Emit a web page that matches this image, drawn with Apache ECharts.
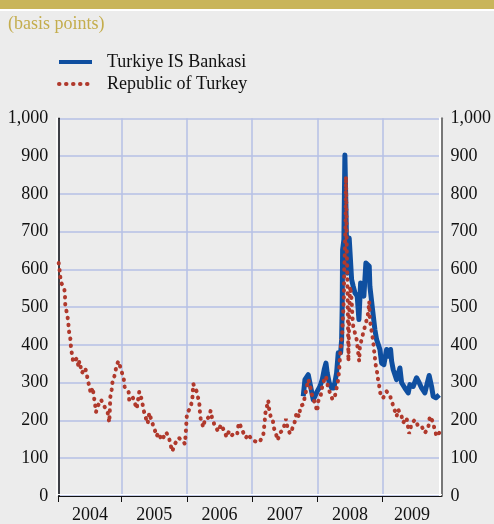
<!DOCTYPE html>
<html>
<head>
<meta charset="utf-8">
<script src="https://cdn.jsdelivr.net/npm/echarts@6/dist/echarts.min.js"></script>
<style>
  html, body { margin: 0; padding: 0; background: #ececec; }
  #chart { width: 494px; height: 524px; }
</style>
</head>
<body>
<div id="chart"></div>
<script>
// Republic of Turkey spread (basis points), decimal years
var turkeyYears = [2004.036, 2004.056, 2004.067, 2004.122, 2004.133, 2004.137, 2004.163, 2004.183, 2004.19, 2004.214,
  2004.224, 2004.240, 2004.260, 2004.312, 2004.342, 2004.352, 2004.393, 2004.443, 2004.480, 2004.505,
  2004.531, 2004.557, 2004.572, 2004.592, 2004.607, 2004.643, 2004.684, 2004.734, 2004.787, 2004.811,
  2004.822, 2004.826, 2004.848, 2004.863, 2004.888, 2004.929, 2004.955, 2004.990, 2005.032, 2005.047,
  2005.108, 2005.117, 2005.169, 2005.200, 2005.231, 2005.270, 2005.312, 2005.332, 2005.362, 2005.399,
  2005.424, 2005.460, 2005.500, 2005.537, 2005.561, 2005.618, 2005.679, 2005.721, 2005.745, 2005.776,
  2005.813, 2005.874, 2005.924, 2005.970, 2005.986, 2006.001, 2006.021, 2006.047, 2006.082, 2006.097,
  2006.149, 2006.159, 2006.189, 2006.197, 2006.211, 2006.251, 2006.277, 2006.327, 2006.364, 2006.388,
  2006.430, 2006.480, 2006.522, 2006.567, 2006.609, 2006.644, 2006.685, 2006.725, 2006.771, 2006.787,
  2006.802, 2006.848, 2006.874, 2006.904, 2006.940, 2006.992, 2007.042, 2007.108, 2007.169, 2007.188,
  2007.203, 2007.246, 2007.257, 2007.283, 2007.313, 2007.333, 2007.364, 2007.390, 2007.425, 2007.476,
  2007.517, 2007.537, 2007.578, 2007.613, 2007.655, 2007.681, 2007.716, 2007.742, 2007.782, 2007.834,
  2007.859, 2007.884, 2007.926, 2007.961, 2007.996, 2008.012, 2008.048, 2008.073, 2008.104, 2008.130,
  2008.165, 2008.202, 2008.232, 2008.267, 2008.293, 2008.318, 2008.333, 2008.344, 2008.370, 2008.379,
  2008.394, 2008.405, 2008.410, 2008.420, 2008.431, 2008.434, 2008.437, 2008.447, 2008.456, 2008.466,
  2008.474, 2008.489, 2008.502, 2008.523, 2008.535, 2008.548, 2008.600, 2008.624, 2008.639, 2008.650,
  2008.676, 2008.701, 2008.742, 2008.777, 2008.793, 2008.803, 2008.829, 2008.854, 2008.865, 2008.880,
  2008.895, 2008.915, 2008.931, 2008.957, 2008.967, 2009.007, 2009.059, 2009.110, 2009.136, 2009.171,
  2009.212, 2009.237, 2009.289, 2009.313, 2009.365, 2009.405, 2009.442, 2009.493, 2009.543, 2009.595,
  2009.645, 2009.696, 2009.722, 2009.763, 2009.783, 2009.825, 2009.865];
var turkeyBp = [617, 589, 567, 549, 527, 505, 483, 462, 440, 417,
  395, 374, 354, 364, 342, 357, 326, 339, 310, 289,
  271, 287, 266, 245, 222, 241, 255, 238, 220, 195,
  239, 261, 282, 306, 317, 350, 357, 335, 311, 289,
  275, 253, 262, 247, 231, 276, 253, 231, 211, 192,
  220, 198, 179, 158, 167, 148, 169, 158, 139, 118,
  137, 154, 148, 138, 176, 220, 224, 231, 253, 297,
  277, 268, 249, 227, 205, 182, 204, 207, 226, 204,
  185, 171, 189, 174, 156, 171, 160, 167, 164, 185,
  194, 174, 164, 154, 164, 149, 145, 142, 160, 190,
  220, 253, 233, 210, 204, 180, 165, 148, 167, 176,
  204, 185, 165, 178, 198, 222, 210, 239, 242, 286,
  308, 295, 260, 246, 224, 251, 264, 290, 308, 317,
  286, 268, 255, 264, 286, 308, 335, 366, 370, 432,
  485, 529, 600, 652, 723, 784, 846, 679, 590, 480,
  357, 502, 555, 520, 476, 449, 414, 379, 357, 396,
  414, 432, 458, 485, 515, 467, 436, 410, 388, 366,
  343, 326, 304, 282, 264, 260, 277, 266, 264, 233,
  211, 229, 211, 194, 207, 165, 192, 202, 185, 185,
  167, 180, 211, 198, 185, 158, 167];

// Turkiye IS Bankasi spread (basis points)
var bankYears = [2007.782, 2007.808, 2007.834, 2007.859, 2007.895, 2007.935, 2007.961, 2007.996, 2008.038, 2008.073,
  2008.104, 2008.130, 2008.149, 2008.180, 2008.217, 2008.252, 2008.293, 2008.318, 2008.355, 2008.370,
  2008.379, 2008.385, 2008.405, 2008.420, 2008.436, 2008.447, 2008.456, 2008.486, 2008.508, 2008.523,
  2008.548, 2008.574, 2008.609, 2008.635, 2008.661, 2008.685, 2008.711, 2008.742, 2008.768, 2008.793,
  2008.803, 2008.844, 2008.880, 2008.906, 2008.957, 2008.982, 2009.018, 2009.059, 2009.084, 2009.120,
  2009.136, 2009.160, 2009.212, 2009.263, 2009.289, 2009.339, 2009.390, 2009.416, 2009.466, 2009.518,
  2009.558, 2009.595, 2009.645, 2009.711, 2009.748, 2009.773, 2009.814, 2009.865];
var bankBp = [264, 308, 313, 321, 290, 255, 264, 277, 290, 308,
  335, 352, 326, 300, 286, 286, 326, 379, 379, 414,
  502, 652, 679, 903, 767, 652, 590, 683, 679, 573,
  555, 538, 529, 467, 564, 568, 529, 617, 621, 608,
  555, 493, 440, 414, 388, 352, 348, 388, 370, 388,
  357, 335, 308, 339, 300, 286, 273, 295, 290, 313,
  300, 286, 273, 319, 290, 264, 260, 268];

var yearTicks = [2004.03, 2005, 2006, 2007, 2008, 2009];
var yearLabelAt = [2004.515, 2005.5, 2006.5, 2007.5, 2008.5, 2009.45];

function pairs(xs, ys) {
  return xs.map(function (x, i) { return [x, ys[i]]; });
}

var serif = "'Liberation Serif', 'Times New Roman', serif";
var gridBlue = '#b6c0e6';

var chart = echarts.init(document.getElementById('chart'));
var option = {
  backgroundColor: '#ececec',
  animation: false,
  graphic: [
    { type: 'rect', left: 0, top: 0, shape: { width: 494, height: 9 }, style: { fill: '#c9b55a' } },
    { type: 'rect', left: 0, top: 9, shape: { width: 494, height: 2 }, style: { fill: '#ffffff' } }
  ],
  title: {
    text: '(basis points)',
    left: 3,
    top: 10,
    textStyle: { fontFamily: serif, fontSize: 18, fontWeight: 'normal', color: '#c4ad4d' }
  },
  legend: {
    orient: 'vertical',
    left: 52,
    top: 48,
    itemWidth: 33,
    itemHeight: 14,
    itemGap: 4,
    itemStyle: { opacity: 0 },
    lineStyle: { width: 4 },
    textStyle: { fontFamily: serif, fontSize: 18, color: '#111', padding: [0, 0, 0, 10] },
    data: ['Turkiye IS Bankasi', 'Republic of Turkey']
  },
  grid: { left: 58.3, right: 52.3, top: 118.3, bottom: 27.5 },
  xAxis: {
    type: 'value',
    min: 2004.03,
    max: 2009.9,
    axisLine: { lineStyle: { color: '#111', width: 1, shadowColor: '#fff', shadowOffsetY: -2 } },
    axisTick: { customValues: yearTicks, length: 6, lineStyle: { color: '#111', width: 1 } },
    axisLabel: {
      customValues: yearLabelAt,
      margin: 10,
      fontFamily: serif,
      fontSize: 18,
      color: '#111',
      formatter: function (v) { return String(Math.floor(v)); }
    },
    splitLine: { show: true, lineStyle: { color: gridBlue, width: 1.5 } }
  },
  yAxis: [
    {
      type: 'value',
      min: 0,
      max: 1000,
      interval: 100,
      axisLine: { show: true, lineStyle: { color: '#111', width: 1.5, shadowColor: '#fff', shadowOffsetX: -2 } },
      axisTick: { show: false },
      axisLabel: {
        margin: 10,
        fontFamily: serif,
        fontSize: 18,
        color: '#111',
        formatter: function (v) { return v.toLocaleString('en-US'); }
      },
      splitLine: { show: true, lineStyle: { color: gridBlue, width: 1.5 } }
    },
    {
      type: 'value',
      position: 'right',
      min: 0,
      max: 1000,
      interval: 100,
      axisLine: { show: true, lineStyle: { color: '#777', width: 2, shadowColor: '#fff', shadowOffsetX: -2 } },
      axisTick: { show: false },
      axisLabel: {
        margin: 9,
        fontFamily: serif,
        fontSize: 18,
        color: '#111',
        formatter: function (v) { return v.toLocaleString('en-US'); }
      },
      splitLine: { show: false }
    }
  ],
  series: [
    {
      name: 'Turkiye IS Bankasi',
      type: 'line',
      data: pairs(bankYears, bankBp),
      showSymbol: false,
      symbol: 'none',
      lineStyle: { color: '#0f4fa0', width: 5, join: 'round' },
      itemStyle: { color: '#0f4fa0' },
      z: 3
    },
    {
      name: 'Republic of Turkey',
      type: 'line',
      data: pairs(turkeyYears, turkeyBp),
      showSymbol: false,
      symbol: 'none',
      lineStyle: { color: '#b0392c', width: 4, type: [0.5, 6.5], cap: 'round' },
      itemStyle: { color: '#b0392c' },
      z: 4
    }
  ]
};
chart.setOption(option);
</script>
</body>
</html>
